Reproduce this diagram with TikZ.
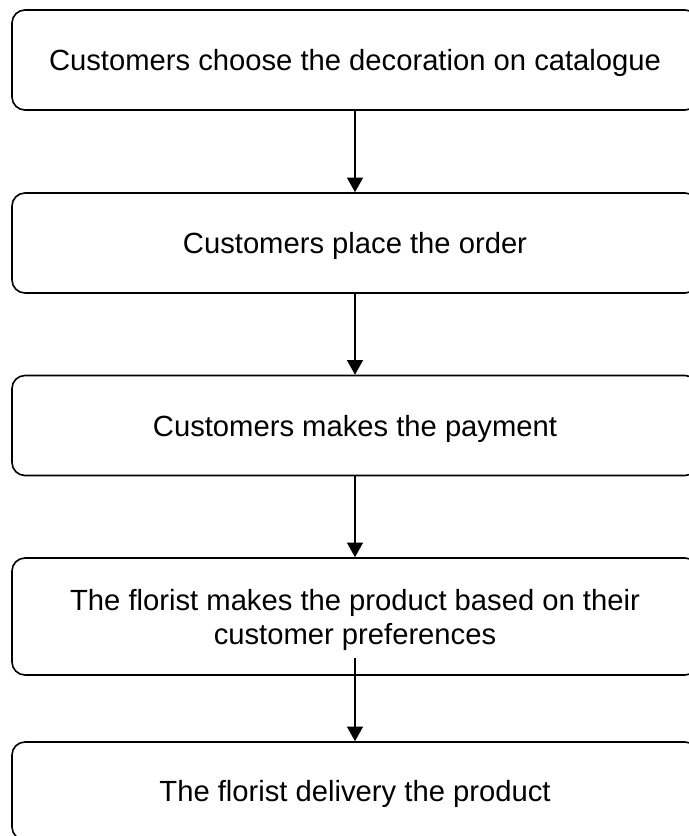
\documentclass[tikz,border=0pt]{standalone}
\usepackage{fontspec}
\setmainfont{Liberation Sans}
\usepackage{tikz}
\usetikzlibrary{shapes,arrows.meta}
\tikzstyle{stepnode}=[rectangle,rounded corners=9.75pt,draw=black,
  line width=1.2pt,inner sep=0pt,minimum width=514.5pt,minimum height=75pt,
  align=center,text depth=0pt,font=\fontsize{21.9}{25.5}\selectfont]
\tikzstyle{flow}=[line width=1.1pt,-{Triangle[width=12pt,length=11pt]}]

\begin{document}
\begin{tikzpicture}[x=0.75pt,y=-0.75pt]
    \useasboundingbox (0,0) rectangle (689,836);
    \node [style=stepnode] (choose) at (355,60) {Customers choose the decoration on catalogue};
    \node [style=stepnode] (order) at (355,243) {Customers place the order};
    \node [style=stepnode] (pay) at (355,425.5) {Customers makes the payment};
    \node [style=stepnode,minimum height=87.75pt] (make) at (355,616.5) {The florist makes the product based on their\\customer preferences};
    \node [style=stepnode,minimum height=73.5pt] (deliver) at (355,791) {The florist delivery the product};
    \coordinate (makeout) at (355,658);
    \draw [style=flow] (choose) to (order);
    \draw [style=flow] (order) to (pay);
    \draw [style=flow] (pay) to (make);
    \draw [style=flow] (makeout) to (deliver.north);
  \end{tikzpicture}
\end{document}
